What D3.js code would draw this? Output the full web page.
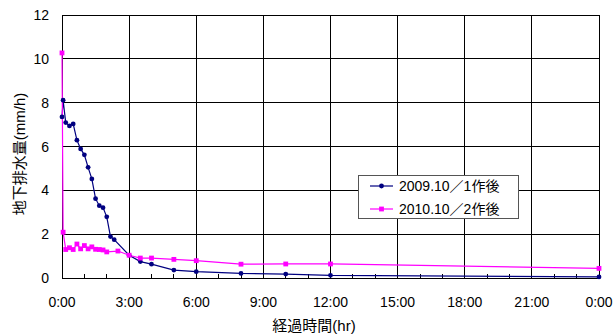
<!DOCTYPE html>
<html><head><meta charset="utf-8">
<script src="https://cdn.jsdelivr.net/npm/d3@7"></script>
<style>
html,body{margin:0;padding:0;background:#fff;}
text{font-family:"Liberation Sans","Noto Sans CJK JP",sans-serif;fill:#000;}
</style></head>
<body>
<svg id="c" width="614" height="335"></svg>
<script>
// Data (time in minutes since start, values in mm/h)
const series1Name = "2009.10／1作後";
const series1Times = [0,3,10,20,30,40,50,60,70,80,90,100,110,120,130,140,180,210,240,300,360,480,600,720,1440];
const series1Values = [7.35,8.11,7.09,6.94,7.03,6.29,5.89,5.62,5.05,4.52,3.62,3.30,3.21,2.79,1.89,1.75,1.04,0.75,0.63,0.36,0.29,0.21,0.18,0.12,0.05];
const series2Name = "2010.10／2作後";
const series2Times = [0,3,10,20,30,40,50,60,70,80,90,100,110,120,150,180,210,240,300,360,480,600,720,1440];
const series2Values = [10.27,2.09,1.30,1.38,1.30,1.55,1.33,1.48,1.33,1.42,1.31,1.30,1.28,1.19,1.23,1.04,0.91,0.91,0.85,0.79,0.63,0.64,0.64,0.44];
const xTickHours = [0,3,6,9,12,15,18,21,24];
const xTickLabels = ["0:00","3:00","6:00","9:00","12:00","15:00","18:00","21:00","0:00"];
const yTicks = [0,2,4,6,8,10,12];
const xTitle = "経過時間(hr)";
const yTitle = "地下排水量(mm/h)";

const svg = d3.select("#c");
const L = 62, R = 599, T = 15, B = 278;
const x = d3.scaleLinear().domain([0,24]).range([L,R]);
const y = d3.scaleLinear().domain([0,12]).range([B,T]);

// gridlines
const g = svg.append("g");
g.selectAll("line.h").data(yTicks).enter().append("line")
  .attr("x1",L).attr("x2",R).attr("y1",d=>y(d)).attr("y2",d=>y(d))
  .attr("stroke","#000").attr("stroke-width",1).attr("shape-rendering","crispEdges");
g.selectAll("line.v").data(xTickHours).enter().append("line")
  .attr("x1",d=>x(d)).attr("x2",d=>x(d)).attr("y1",T).attr("y2",B)
  .attr("stroke","#000").attr("stroke-width",1).attr("shape-rendering","crispEdges");
// minor ticks hourly, inside
g.selectAll("line.m").data(d3.range(0,25)).enter().append("line")
  .attr("x1",d=>x(d)).attr("x2",d=>x(d)).attr("y1",B).attr("y2",B-4)
  .attr("stroke","#000").attr("stroke-width",1).attr("shape-rendering","crispEdges");
g.append("rect").attr("x",L).attr("y",T).attr("width",R-L).attr("height",B-T)
  .attr("fill","none").attr("stroke","#000").attr("stroke-width",1).attr("shape-rendering","crispEdges");

// axes labels
svg.append("g").selectAll("text").data(yTicks).enter().append("text")
  .attr("x",49).attr("y",d=>y(d)).attr("dy","0.36em").attr("text-anchor","end")
  .attr("font-size",14).text(d=>d);
svg.append("g").selectAll("text").data(xTickHours).enter().append("text")
  .attr("x",d=>x(d)).attr("y",302).attr("dy","0.36em").attr("text-anchor","middle")
  .attr("font-size",14).text((d,i)=>xTickLabels[i]);
svg.append("text").attr("x",314).attr("y",326).attr("dy","0.36em").attr("text-anchor","middle")
  .attr("font-size",15).text(xTitle);
svg.append("text").attr("transform","translate(20,154) rotate(-90)").attr("dy","0.36em")
  .attr("text-anchor","middle").attr("font-size",15).text(yTitle);

const pts1 = series1Times.map((t,i)=>[t/60, series1Values[i]]);
const pts2 = series2Times.map((t,i)=>[t/60, series2Values[i]]);
const line = d3.line().x(d=>x(d[0])).y(d=>y(d[1]));

const c1 = "#000080", c2 = "#FF00FF";
svg.append("path").attr("d",line(pts1)).attr("fill","none").attr("stroke",c1).attr("stroke-width",1.2);
svg.append("path").attr("d",line(pts2)).attr("fill","none").attr("stroke",c2).attr("stroke-width",1.2);
svg.append("g").selectAll("circle").data(pts1).enter().append("circle")
  .attr("cx",d=>x(d[0])).attr("cy",d=>y(d[1])).attr("r",2.4).attr("fill",c1);
svg.append("g").selectAll("rect").data(pts2).enter().append("rect")
  .attr("x",d=>x(d[0])-2.4).attr("y",d=>y(d[1])-2.4).attr("width",4.8).attr("height",4.8).attr("fill",c2);

// legend
const lg = svg.append("g");
lg.append("rect").attr("x",358.5).attr("y",175.5).attr("width",160).attr("height",43)
  .attr("fill","#fff").attr("stroke","#555").attr("stroke-width",1);
const items = [[series1Name,c1,"c",186],[series2Name,c2,"s",209]];
items.forEach(([name,col,shape,yy])=>{
  lg.append("line").attr("x1",370).attr("x2",393).attr("y1",yy).attr("y2",yy).attr("stroke",col).attr("stroke-width",1.2);
  if(shape==="c") lg.append("circle").attr("cx",381.5).attr("cy",yy).attr("r",2.4).attr("fill",col);
  else lg.append("rect").attr("x",379.1).attr("y",yy-2.4).attr("width",4.8).attr("height",4.8).attr("fill",col);
  lg.append("text").attr("x",399).attr("y",yy).attr("dy","0.36em").attr("font-size",14).text(name);
});
</script>
</body></html>
